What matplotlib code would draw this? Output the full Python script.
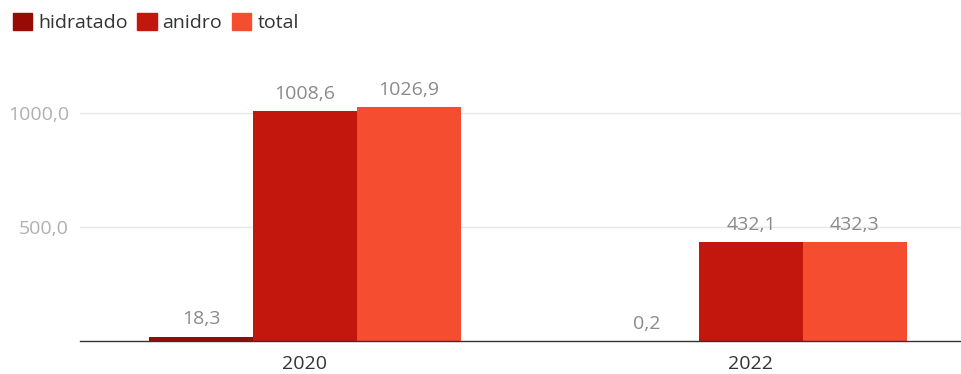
import matplotlib
matplotlib.use("Agg")
import matplotlib.pyplot as plt
import matplotlib.patches as mpatches
import numpy as np

plt.rcParams["font.family"] = ["Open Sans", "DejaVu Sans"]

years = ["2020", "2022"]
series = ["hidratado", "anidro", "total"]
hidratado = [18.3, 0.2]
anidro = [1008.6, 432.1]
total = [1026.9, 432.3]
yticks = [500, 1000]
ytick_labels = ["500,0", "1000,0"]

colors = ["#9A0A05", "#C3170D", "#F44D30"]

fig = plt.figure(figsize=(9.62, 3.74), dpi=100)
ax = fig.add_axes([80 / 962, 1 - 341 / 374, 1 - 80 / 962, 273.6 / 374])

x = np.arange(len(years))
w = 0.233
for i, (vals, col) in enumerate(zip([hidratado, anidro, total], colors)):
    pos = x + (i - 1) * w
    ax.bar(pos, vals, width=w, color=col, zorder=3)
    for p, v in zip(pos, vals):
        ax.annotate(f"{v:.1f}".replace(".", ","), (p, v), xytext=(0, 6),
                    textcoords="offset points", ha="center", va="bottom",
                    fontsize=14, color="#8a8a8a")

ax.set_xlim(-0.504, 1.473)
ax.set_ylim(0, 1200)
ax.set_yticks(yticks)
ax.set_yticklabels(ytick_labels, fontsize=14, color="#b0b0b0")
ax.set_xticks(x)
ax.set_xticklabels(years, fontsize=14, color="#333333")
ax.tick_params(axis="x", length=0, pad=10)
ax.tick_params(axis="y", length=0, pad=8)
ax.grid(axis="y", color="#e6e6e6", linewidth=1, zorder=0)
for s in ["top", "right", "left"]:
    ax.spines[s].set_visible(False)
ax.spines["bottom"].set_color("#333333")
ax.spines["bottom"].set_linewidth(1)
ax.spines["bottom"].set_zorder(4)

handles = [mpatches.Patch(color=c, label=s) for c, s in zip(colors, series)]
fig.legend(handles=handles, loc="upper left", bbox_to_anchor=(0.0, 1.0),
           ncol=3, frameon=False, fontsize=14, handlelength=1.0,
           handleheight=1.0, handletextpad=0.3, columnspacing=0.5,
           borderaxespad=0.25, labelcolor="#333333")

fig.savefig("out.png", dpi=100)
